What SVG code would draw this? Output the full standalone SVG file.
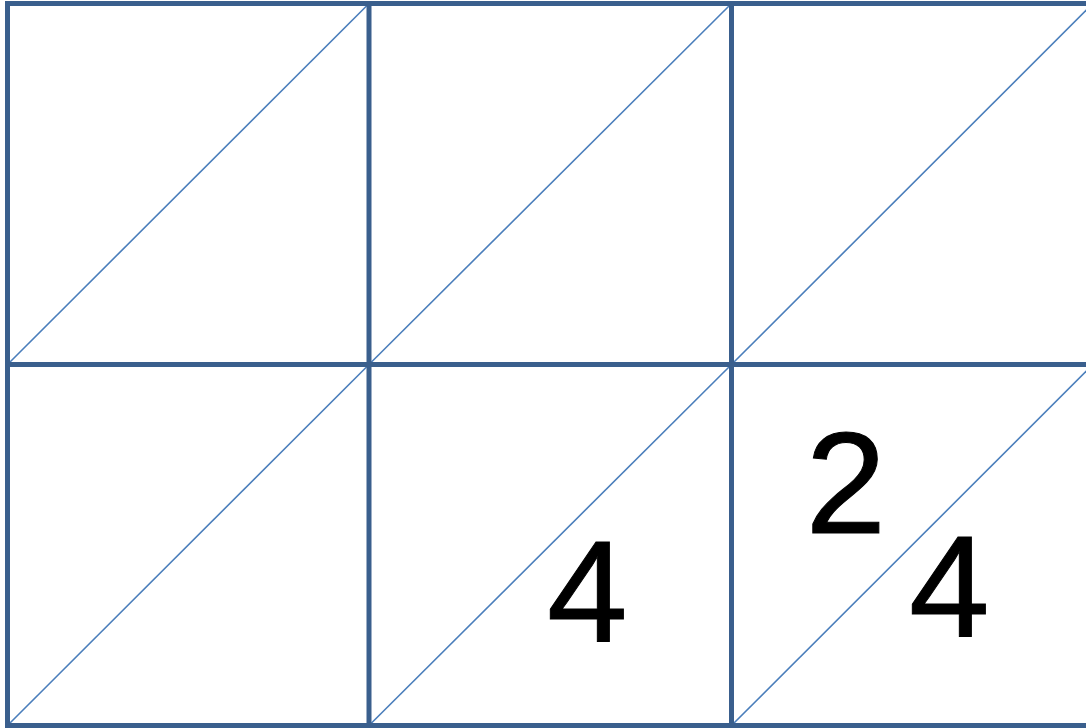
<svg xmlns="http://www.w3.org/2000/svg" width="1086" height="728" viewBox="0 0 1086 728">
<style>
.grid{stroke:#3A5F8D;stroke-width:5;fill:none}
.diag{stroke:#4A7EBB;stroke-width:1.6;fill:none}
.num{font-family:"Liberation Sans",Arial,sans-serif;font-size:145px;fill:#000;stroke:#000;stroke-width:1}
</style>
<rect width="1086" height="728" fill="#fff"/>
<g id="connectors">
<line class="diag" x1="7.5" y1="364.5" x2="369" y2="3.5"/>
<line class="diag" x1="369" y1="364.5" x2="731.5" y2="3.5"/>
<line class="diag" x1="731.5" y1="364.5" x2="1093" y2="3.5"/>
<line class="diag" x1="7.5" y1="725.5" x2="369" y2="364.5"/>
<line class="diag" x1="369" y1="725.5" x2="731.5" y2="364.5"/>
<line class="diag" x1="731.5" y1="725.5" x2="1093" y2="364.5"/>
</g>
<g id="grid">
<line class="grid" x1="7.5" y1="1" x2="7.5" y2="728"/>
<line class="grid" x1="369" y1="1" x2="369" y2="728"/>
<line class="grid" x1="731.5" y1="1" x2="731.5" y2="728"/>
<line class="grid" x1="5" y1="3.5" x2="1086" y2="3.5"/>
<line class="grid" x1="5" y1="364.5" x2="1086" y2="364.5"/>
<line class="grid" x1="5" y1="725.5" x2="1086" y2="725.5"/>
</g>
<g id="cell-r2c2"><text class="num" x="547" y="642">4</text></g>
<g id="cell-r2c3"><text class="num" x="805.5" y="533">2</text><text class="num" x="909" y="637">4</text></g>
</svg>
